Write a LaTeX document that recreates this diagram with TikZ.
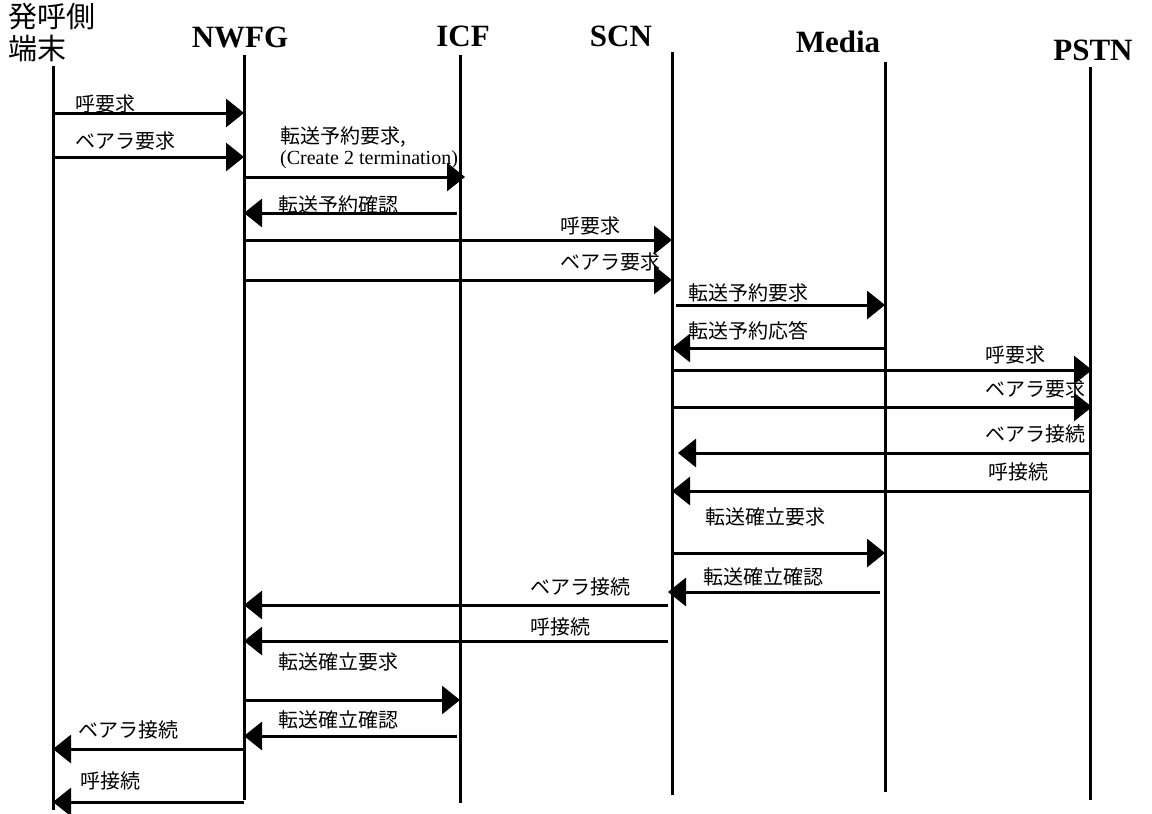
\documentclass[tikz,border=0pt]{standalone}
\usepackage{fontspec}
\setmainfont{Liberation Serif}
\newfontfamily\jpfont{Noto Sans CJK JP}
\usetikzlibrary{arrows.meta}

\begin{document}
\begin{tikzpicture}[x=1pt,y=-1pt,line join=miter,
    lifeline/.style={line width=3pt},
    msg/.style={line width=3pt,-{Triangle[length=18pt,width=28pt]}},
    lbl/.style={anchor=west,inner sep=0pt,font=\jpfont\fontsize{20}{22}\selectfont},
    head/.style={inner sep=0pt,font=\bfseries\fontsize{31}{33}\selectfont}]
    \useasboundingbox (0,0) rectangle (1152,814);
    % heads
    \node[anchor=north west,align=left,inner sep=0pt,font=\jpfont\fontsize{29}{32}\selectfont] (term) at (8,3) {発呼側\\端末};
    \node[head] (nwfg) at (240,37) {NWFG};
    \node[head] (icf) at (463,36) {ICF};
    \node[head] (scn) at (621,36) {SCN};
    \node[head] (media) at (838,42) {Media};
    \node[head] (pstn) at (1093,50) {PSTN};
    % lifelines
    \coordinate (T) at (53,66);   \coordinate (Tb) at (53,810);
    \coordinate (N) at (244,55);  \coordinate (Nb) at (244,800);
    \coordinate (I) at (460,55);  \coordinate (Ib) at (460,803);
    \coordinate (S) at (672,52);  \coordinate (Sb) at (672,795);
    \coordinate (M) at (885,62);  \coordinate (Mb) at (885,792);
    \coordinate (P) at (1090,67); \coordinate (Pb) at (1090,800);
    \foreach \a/\b in {T/Tb,N/Nb,I/Ib,S/Sb,M/Mb,P/Pb}
    \draw[lifeline] (\a) -- (\b);
    % messages
    \draw[msg] (T|-0,113) -- (N|-0,113);
    \node[lbl] (m1) at (75,104) {呼要求};
    \draw[msg] (T|-0,157) -- (N|-0,157);
    \node[lbl] (m2) at (75,141) {ベアラ要求};
    \draw[msg] (N|-0,177) -- ([xshift=5pt]I|-0,177);
    \node[lbl] (m3) at (280,137) {転送予約要求,};
    \node[anchor=west,inner sep=0pt,font=\fontsize{20}{22}\selectfont] (m3b) at (280,160) {(Create 2 termination)};
    \draw[msg] ([xshift=-3pt]I|-0,213) -- (N|-0,213);
    \node[lbl] (m4) at (278,205) {転送予約確認};
    \draw[msg] (N|-0,240) -- (S|-0,240);
    \node[lbl] (m5) at (560,226) {呼要求};
    \draw[msg] (N|-0,280) -- (S|-0,280);
    \node[lbl] (m6) at (560,262) {ベアラ要求};
    \draw[msg] ([xshift=4pt]S|-0,305) -- (M|-0,305);
    \node[lbl] (m7) at (688,293) {転送予約要求};
    \draw[msg] (M|-0,348) -- (S|-0,348);
    \node[lbl] (m8) at (688,331) {転送予約応答};
    \draw[msg] (S|-0,370) -- ([xshift=2pt]P|-0,370);
    \node[lbl] (m9) at (985,355) {呼要求};
    \draw[msg] (S|-0,407) -- ([xshift=2pt]P|-0,407);
    \node[lbl] (m10) at (985,389) {ベアラ要求};
    \draw[msg] (P|-0,453) -- ([xshift=6pt]S|-0,453);
    \node[lbl] (m11) at (985,434) {ベアラ接続};
    \draw[msg] (P|-0,491) -- (S|-0,491);
    \node[lbl] (m12) at (988,472) {呼接続};
    \draw[msg] (S|-0,553) -- (M|-0,553);
    \node[lbl] (m13) at (705,517) {転送確立要求};
    \draw[msg] ([xshift=-5pt]M|-0,592) -- ([xshift=-4pt]S|-0,592);
    \node[lbl] (m14) at (703,577) {転送確立確認};
    \draw[msg] ([xshift=-4pt]S|-0,605) -- (N|-0,605);
    \node[lbl] (m15) at (530,587) {ベアラ接続};
    \draw[msg] ([xshift=-4pt]S|-0,641) -- (N|-0,641);
    \node[lbl] (m16) at (530,627) {呼接続};
    \draw[msg] (N|-0,700) -- (I|-0,700);
    \node[lbl] (m17) at (278,662) {転送確立要求};
    \draw[msg] ([xshift=-3pt]I|-0,736) -- (N|-0,736);
    \node[lbl] (m18) at (278,720) {転送確立確認};
    \draw[msg] (N|-0,749) -- (T|-0,749);
    \node[lbl] (m19) at (78,730) {ベアラ接続};
    \draw[msg] (N|-0,802) -- (T|-0,802);
    \node[lbl] (m20) at (80,781) {呼接続};
\end{tikzpicture}
\end{document}
